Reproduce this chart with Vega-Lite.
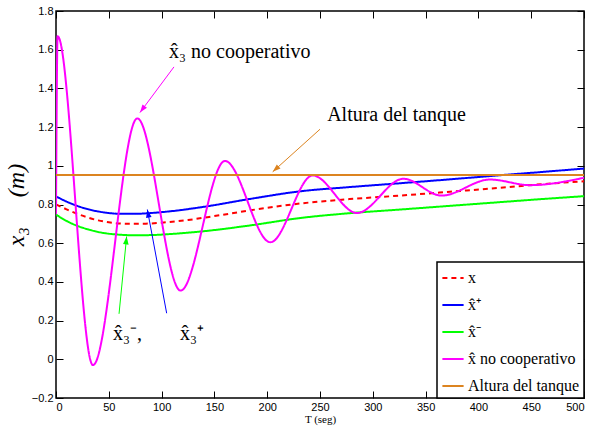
{
  "$schema": "https://vega.github.io/schema/vega-lite/v6.json",
  "width": 528,
  "height": 387,
  "autosize": "none",
  "padding": {"left": 56, "top": 11, "right": 19, "bottom": 38},
  "config": {
    "view": {"stroke": "black", "strokeWidth": 1.5},
    "axis": {
      "grid": false,
      "domain": false,
      "tickColor": "black",
      "tickSize": -7,
      "tickWidth": 1,
      "labelFont": "Liberation Sans",
      "labelFontSize": 11,
      "labelColor": "black",
      "labelPadding": 10,
      "titleColor": "black",
      "titleFontWeight": "normal"
    },
    "legend": {
      "orient": "bottom-right",
      "offset": 0,
      "strokeColor": "black",
      "strokeWidth": 1.5,
      "fillColor": "white",
      "padding": 4,
      "symbolType": "stroke",
      "symbolSize": 450,
      "symbolStrokeWidth": 2,
      "labelFont": "Liberation Serif",
      "labelFontSize": 16,
      "labelColor": "black",
      "labelOffset": 3,
      "rowPadding": 7
    }
  },
  "datasets": {
    "lines": [
      {"s": "x", "t": 0, "v": 0.80}, {"s": "x", "t": 10, "v": 0.775}, {"s": "x", "t": 20, "v": 0.752}, {"s": "x", "t": 30, "v": 0.733}, {"s": "x", "t": 40, "v": 0.718}, {"s": "x", "t": 50, "v": 0.708}, {"s": "x", "t": 60, "v": 0.702}, {"s": "x", "t": 70, "v": 0.70}, {"s": "x", "t": 85, "v": 0.701}, {"s": "x", "t": 100, "v": 0.706}, {"s": "x", "t": 125, "v": 0.72}, {"s": "x", "t": 150, "v": 0.74}, {"s": "x", "t": 184, "v": 0.77}, {"s": "x", "t": 231, "v": 0.805}, {"s": "x", "t": 278, "v": 0.828}, {"s": "x", "t": 326, "v": 0.846}, {"s": "x", "t": 373, "v": 0.866}, {"s": "x", "t": 420, "v": 0.886}, {"s": "x", "t": 460, "v": 0.905}, {"s": "x", "t": 500, "v": 0.92},
      {"s": "x̂⁺", "t": 0, "v": 0.842}, {"s": "x̂⁺", "t": 10, "v": 0.815}, {"s": "x̂⁺", "t": 20, "v": 0.793}, {"s": "x̂⁺", "t": 30, "v": 0.776}, {"s": "x̂⁺", "t": 40, "v": 0.764}, {"s": "x̂⁺", "t": 50, "v": 0.756}, {"s": "x̂⁺", "t": 60, "v": 0.752}, {"s": "x̂⁺", "t": 75, "v": 0.752}, {"s": "x̂⁺", "t": 90, "v": 0.756}, {"s": "x̂⁺", "t": 110, "v": 0.766}, {"s": "x̂⁺", "t": 140, "v": 0.788}, {"s": "x̂⁺", "t": 184, "v": 0.829}, {"s": "x̂⁺", "t": 231, "v": 0.868}, {"s": "x̂⁺", "t": 278, "v": 0.89}, {"s": "x̂⁺", "t": 326, "v": 0.91}, {"s": "x̂⁺", "t": 373, "v": 0.93}, {"s": "x̂⁺", "t": 420, "v": 0.951}, {"s": "x̂⁺", "t": 460, "v": 0.968}, {"s": "x̂⁺", "t": 500, "v": 0.986},
      {"s": "x̂⁻", "t": 0, "v": 0.748}, {"s": "x̂⁻", "t": 10, "v": 0.715}, {"s": "x̂⁻", "t": 20, "v": 0.69}, {"s": "x̂⁻", "t": 30, "v": 0.672}, {"s": "x̂⁻", "t": 40, "v": 0.658}, {"s": "x̂⁻", "t": 50, "v": 0.649}, {"s": "x̂⁻", "t": 60, "v": 0.644}, {"s": "x̂⁻", "t": 75, "v": 0.641}, {"s": "x̂⁻", "t": 90, "v": 0.642}, {"s": "x̂⁻", "t": 110, "v": 0.648}, {"s": "x̂⁻", "t": 140, "v": 0.662}, {"s": "x̂⁻", "t": 184, "v": 0.692}, {"s": "x̂⁻", "t": 231, "v": 0.73}, {"s": "x̂⁻", "t": 278, "v": 0.755}, {"s": "x̂⁻", "t": 326, "v": 0.774}, {"s": "x̂⁻", "t": 373, "v": 0.793}, {"s": "x̂⁻", "t": 420, "v": 0.812}, {"s": "x̂⁻", "t": 460, "v": 0.828}, {"s": "x̂⁻", "t": 500, "v": 0.843},
      {"s": "x̂ no cooperativo", "t": 0, "v": 0.75}, {"s": "x̂ no cooperativo", "t": 1.5, "v": 1.67}, {"s": "x̂ no cooperativo", "t": 35, "v": -0.03}, {"s": "x̂ no cooperativo", "t": 77, "v": 1.245}, {"s": "x̂ no cooperativo", "t": 118, "v": 0.355}, {"s": "x̂ no cooperativo", "t": 160, "v": 1.025}, {"s": "x̂ no cooperativo", "t": 203, "v": 0.605}, {"s": "x̂ no cooperativo", "t": 243, "v": 0.95}, {"s": "x̂ no cooperativo", "t": 285, "v": 0.756}, {"s": "x̂ no cooperativo", "t": 329, "v": 0.933}, {"s": "x̂ no cooperativo", "t": 365, "v": 0.846}, {"s": "x̂ no cooperativo", "t": 411, "v": 0.929}, {"s": "x̂ no cooperativo", "t": 449, "v": 0.90}, {"s": "x̂ no cooperativo", "t": 500, "v": 0.938},
      {"s": "Altura del tanque", "t": 0, "v": 0.953}, {"s": "Altura del tanque", "t": 500, "v": 0.953}
    ],
    "arrows": [
      {"s": "x̂ no cooperativo", "t1": 111.7, "v1": 1.511, "t2": 79.5, "v2": 1.275},
      {"s": "Altura del tanque", "t1": 250, "v1": 1.189, "t2": 205.2, "v2": 0.969},
      {"s": "x̂⁻", "t1": 59.7, "v1": 0.235, "t2": 66.9, "v2": 0.635},
      {"s": "x̂⁺", "t1": 104.8, "v1": 0.238, "t2": 86.5, "v2": 0.774}
    ],
    "labels": [
      {"label": "x̂₃ no cooperativo", "t": 174, "v": 1.556, "pos": "center"},
      {"label": "Altura del tanque", "t": 322.5, "v": 1.231, "pos": "center"},
      {"label": "x̂₃⁻,", "t": 54, "v": 0.1, "pos": "left"},
      {"label": "x̂₃⁺", "t": 117.4, "v": 0.1, "pos": "left"}
    ]
  },
  "layer": [
    {
      "data": {"name": "lines"},
      "mark": {"type": "line", "interpolate": "monotone", "strokeWidth": 2, "clip": true},
      "encoding": {
        "x": {"field": "t", "type": "quantitative", "scale": {"domain": [0, 500], "nice": false},
          "axis": {"orient": "bottom", "values": [0, 50, 100, 150, 200, 250, 300, 350, 400, 450, 500], "title": "T (seg)", "titleFont": "Liberation Serif", "titleFontSize": 11, "titlePadding": 1}},
        "y": {"field": "v", "type": "quantitative", "scale": {"domain": [-0.2, 1.8], "nice": false},
          "axis": {"orient": "left", "values": [-0.2, 0, 0.2, 0.4, 0.6, 0.8, 1, 1.2, 1.4, 1.6, 1.8], "format": "~g", "title": "x₃\u00a0\u00a0\u00a0\u00a0\u00a0(m)", "titleFont": "Liberation Serif", "titleFontStyle": "italic", "titleFontSize": 24, "titlePadding": 3}},
        "color": {"field": "s", "type": "nominal", "legend": {"title": null},
          "scale": {"domain": ["x", "x̂⁺", "x̂⁻", "x̂ no cooperativo", "Altura del tanque"], "range": ["#FF0000", "#0000FF", "#00FF00", "#FF00FF", "#DC8420"]}},
        "strokeDash": {"field": "s", "type": "nominal", "legend": {"title": null},
          "scale": {"domain": ["x", "x̂⁺", "x̂⁻", "x̂ no cooperativo", "Altura del tanque"], "range": [[5, 4], [1, 0], [1, 0], [1, 0], [1, 0]]}}
      }
    },
    {
      "data": {"name": "arrows"},
      "mark": {"type": "rule", "strokeWidth": 1},
      "encoding": {
        "x": {"field": "t1", "type": "quantitative", "axis": null},
        "y": {"field": "v1", "type": "quantitative", "axis": null},
        "x2": {"field": "t2"},
        "y2": {"field": "v2"},
        "color": {"field": "s", "type": "nominal", "legend": null}
      }
    },
    {
      "data": {"name": "arrows"},
      "transform": [{"filter": "datum.s == 'x̂ no cooperativo'"}],
      "mark": {"type": "point", "shape": "M0,0L-0.7,2L0.7,2Z", "filled": true, "size": 64, "angle": 216.6, "opacity": 1, "color": "#FF00FF"},
      "encoding": {"x": {"field": "t2", "type": "quantitative", "axis": null}, "y": {"field": "v2", "type": "quantitative", "axis": null}}
    },
    {
      "data": {"name": "arrows"},
      "transform": [{"filter": "datum.s == 'Altura del tanque'"}],
      "mark": {"type": "point", "shape": "M0,0L-0.7,2L0.7,2Z", "filled": true, "size": 64, "angle": 228.2, "opacity": 1, "color": "#DC8420"},
      "encoding": {"x": {"field": "t2", "type": "quantitative", "axis": null}, "y": {"field": "v2", "type": "quantitative", "axis": null}}
    },
    {
      "data": {"name": "arrows"},
      "transform": [{"filter": "datum.s == 'x̂⁻'"}],
      "mark": {"type": "point", "shape": "M0,0L-0.7,2L0.7,2Z", "filled": true, "size": 64, "angle": 5.7, "opacity": 1, "color": "#00FF00"},
      "encoding": {"x": {"field": "t2", "type": "quantitative", "axis": null}, "y": {"field": "v2", "type": "quantitative", "axis": null}}
    },
    {
      "data": {"name": "arrows"},
      "transform": [{"filter": "datum.s == 'x̂⁺'"}],
      "mark": {"type": "point", "shape": "M0,0L-0.7,2L0.7,2Z", "filled": true, "size": 64, "angle": 349.4, "opacity": 1, "color": "#0000FF"},
      "encoding": {"x": {"field": "t2", "type": "quantitative", "axis": null}, "y": {"field": "v2", "type": "quantitative", "axis": null}}
    },
    {
      "data": {"name": "labels"},
      "transform": [{"filter": "datum.pos == 'center'"}],
      "mark": {"type": "text", "font": "Liberation Serif", "fontSize": 20, "align": "center", "baseline": "alphabetic", "color": "black"},
      "encoding": {
        "x": {"field": "t", "type": "quantitative", "axis": {"orient": "top", "values": [0, 50, 100, 150, 200, 250, 300, 350, 400, 450, 500], "labels": false, "title": null}},
        "y": {"field": "v", "type": "quantitative", "axis": {"orient": "right", "values": [-0.2, 0, 0.2, 0.4, 0.6, 0.8, 1, 1.2, 1.4, 1.6, 1.8], "labels": false, "title": null}},
        "text": {"field": "label"}
      }
    },
    {
      "data": {"name": "labels"},
      "transform": [{"filter": "datum.pos == 'left'"}],
      "mark": {"type": "text", "font": "Liberation Serif", "fontSize": 20, "align": "left", "baseline": "alphabetic", "color": "black"},
      "encoding": {
        "x": {"field": "t", "type": "quantitative", "axis": null},
        "y": {"field": "v", "type": "quantitative", "axis": null},
        "text": {"field": "label"}
      }
    }
  ],
  "resolve": {"axis": {"x": "independent", "y": "independent"}}
}
